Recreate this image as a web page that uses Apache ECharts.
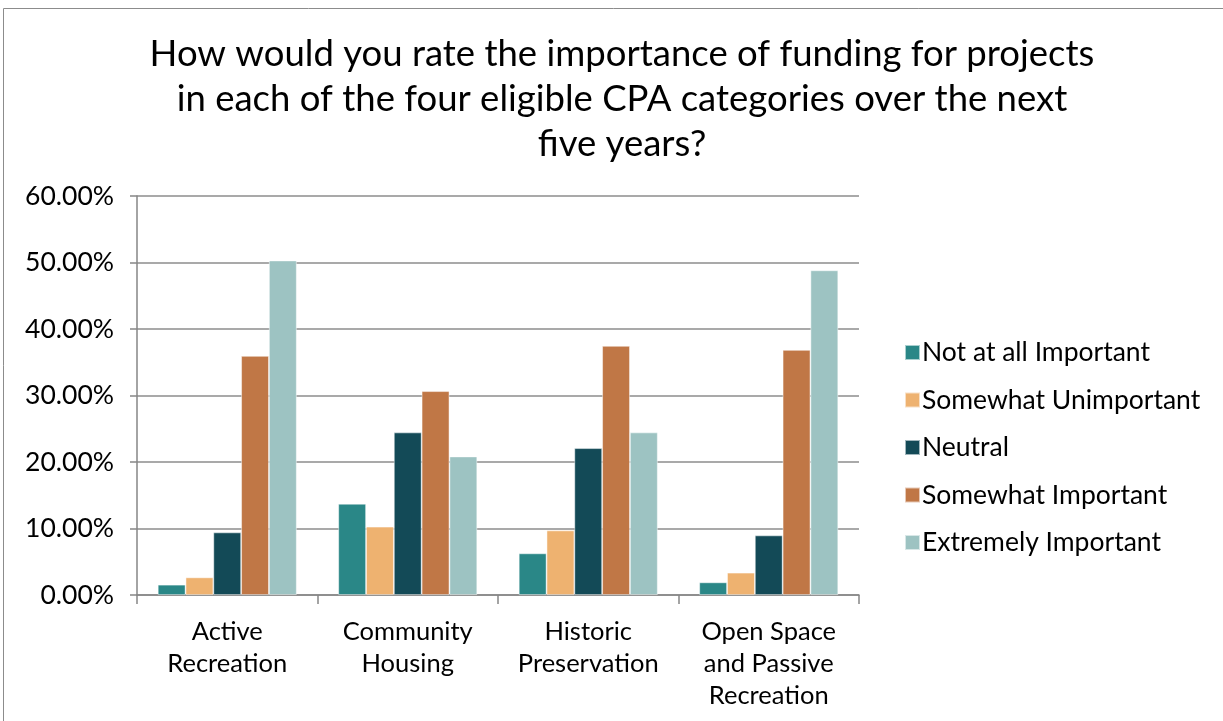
<!DOCTYPE html>
<html><head><meta charset="utf-8">
<script src="https://cdn.jsdelivr.net/npm/echarts@6/dist/echarts.min.js"></script>
<style>html,body{margin:0;padding:0;background:#fff}#c{width:1223px;height:721px}</style>
</head><body><div id="c"></div>
<script>
const categories = ['Active\nRecreation', 'Community\nHousing', 'Historic\nPreservation', 'Open Space\nand Passive\nRecreation'];
const seriesNames = ['Not at all Important', 'Somewhat Unimportant', 'Neutral', 'Somewhat Important', 'Extremely Important'];
const notAtAll = [1.55, 13.72, 6.26, 1.90];
const somewhatUnimportant = [2.65, 10.27, 9.71, 3.36];
const neutral = [9.41, 24.44, 22.08, 8.96];
const somewhatImportant = [35.95, 30.65, 37.46, 36.85];
const extremelyImportant = [50.30, 20.83, 24.44, 48.82];
const colors = ['#2A8787', '#EEB270', '#134A57', '#C07746', '#9DC3C2'];
const allValues = [notAtAll, somewhatUnimportant, neutral, somewhatImportant, extremelyImportant];

const chart = echarts.init(document.getElementById('c'));
const font = 'Lato, "Open Sans", sans-serif';
chart.setOption({
  animation: false,
  textStyle: { fontFamily: font },
  graphic: [{ type: 'rect', shape: { x: 3.5, y: 8.5, width: 1240, height: 740 }, style: { fill: 'none', stroke: '#8c8c8c', lineWidth: 1 } }],
  title: {
    text: 'How would you rate the importance of funding for projects\nin each of the four eligible CPA categories over the next\nfive years?',
    left: 617, top: 27, textAlign: 'center',
    textStyle: { fontFamily: font, fontSize: 36.5, fontWeight: 'normal', color: '#000', lineHeight: 45 }
  },
  legend: {
    orient: 'vertical', left: 899, top: 334, itemWidth: 15, itemHeight: 15, itemGap: 20.5,
    icon: 'rect',
    textStyle: { fontFamily: font, fontSize: 26.5, color: '#000', padding: [0, 0, 0, -3] },
    data: seriesNames
  },
  grid: { left: 137, top: 196, width: 722, height: 399, containLabel: false },
  xAxis: {
    type: 'category', data: categories,
    axisLine: { lineStyle: { color: '#868686', width: 1.5 } },
    axisTick: { show: true, length: 9, lineStyle: { color: '#868686', width: 1.5 } },
    axisLabel: { fontFamily: font, fontSize: 25.5, color: '#000', lineHeight: 32, margin: 21, interval: 0 }
  },
  yAxis: {
    type: 'value', min: 0, max: 60, interval: 10,
    axisLine: { show: true, lineStyle: { color: '#868686', width: 1.5 } },
    axisTick: { show: true, length: 7, lineStyle: { color: '#868686', width: 1.5 } },
    splitLine: { lineStyle: { color: '#8c8c8c', width: 1.5 } },
    axisLabel: { fontFamily: font, fontSize: 26.5, color: '#000', margin: 23, formatter: v => v.toFixed(2) + '%' }
  },
  series: seriesNames.map((n, i) => ({
    name: n, type: 'bar', data: allValues[i],
    barGap: '0%', barCategoryGap: '23%',
    itemStyle: { color: colors[i], borderColor: 'rgba(255,255,255,0.6)', borderWidth: 0.8 }
  }))
});
</script></body></html>
